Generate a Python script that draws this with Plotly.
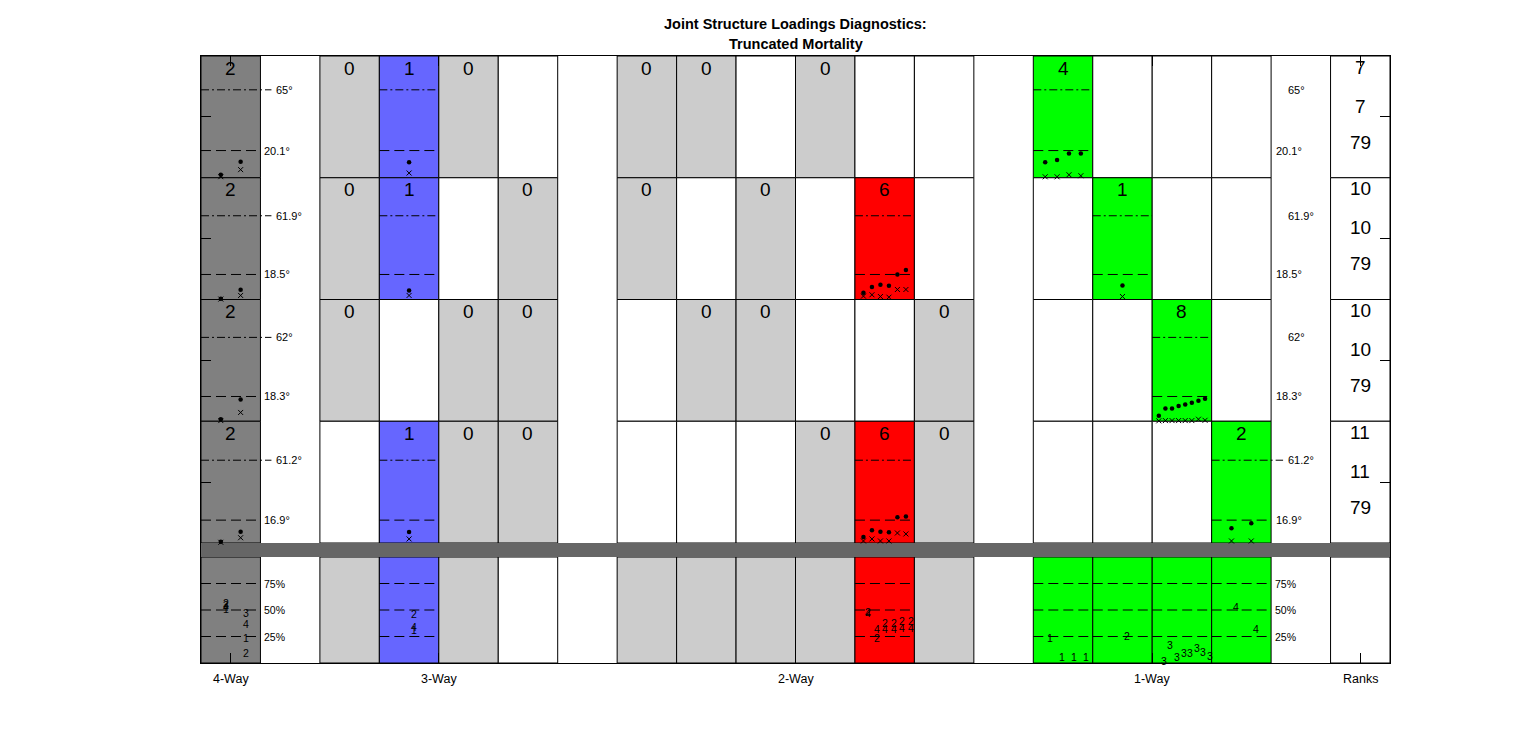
import plotly.graph_objects as go

# ---------------- data ----------------
row_names = ["Swiss Male", "Spanish Male", "Swiss Female", "Spanish Female"]
way_labels = ["4-Way", "3-Way", "2-Way", "1-Way", "Ranks"]

# component counts per cell: number = coloured cell, 0 = grey "0" cell, None = empty
four_way = [2, 2, 2, 2]
three_way = [[0, 1, 0, None], [0, 1, None, 0], [0, None, 0, 0], [None, 1, 0, 0]]
two_way = [[0, 0, None, 0, None, None], [0, None, 0, None, 6, None],
           [None, 0, 0, None, None, 0], [None, None, None, 0, 6, 0]]
one_way = [[4, None, None, None], [None, 1, None, None],
           [None, None, 8, None], [None, None, None, 2]]

upper_angle = [65, 61.9, 62, 61.2]
lower_angle = [20.1, 18.5, 18.3, 16.9]
upper_label = ["65°", "61.9°", "62°", "61.2°"]
lower_label = ["20.1°", "18.5°", "18.3°", "16.9°"]

# angles of the dots and crosses, per row, keyed by grid column
dots_swiss_male = {0: [2.2, 11.9], 3: [11.4], 14: [11.4, 13.2, 17.9, 17.9]}
dots_spanish_male = {0: [0.5, 7.2], 3: [6.7], 11: [5.0, 9.2, 10.9, 10.2, 18.4, 21.8], 15: [10.4]}
dots_swiss_female = {0: [1.5, 16.1], 16: [4.0, 9.5, 9.5, 11.2, 12.4, 13.6, 15.1, 16.6]}
dots_spanish_female = {0: [1.0, 8.4], 3: [8.2], 11: [4.5, 9.4, 8.4, 8.0, 19.1, 19.6], 17: [10.9, 14.6]}

cross_swiss_male = {0: [0.8, 6.0], 3: [3.5], 14: [0.7, 0.7, 2.2, 1.5]}
cross_spanish_male = {0: [0.3, 3.0], 3: [3.0], 11: [2.5, 3.5, 2.2, 1.7, 7.4, 7.4], 15: [2.2]}
cross_swiss_female = {0: [0.5, 6.5], 16: [0.3, 0.5, 0.5, 0.5, 0.5, 0.5, 1.5, 0.7]}
cross_spanish_female = {0: [0.5, 3.9], 3: [3.0], 11: [1.5, 3.0, 1.5, 1.5, 7.4, 6.7], 17: [1.5, 1.5]}

rank_first = [7, 10, 10, 11]
rank_second = [7, 10, 10, 11]
rank_third = [79, 79, 79, 79]

# effective contribution row: fill state per grid column and trait percentages per component
bottom_state = {0: "c", 2: "g", 3: "c", 4: "g", 5: "w", 7: "g", 8: "g", 9: "g", 10: "g",
                11: "c", 12: "g", 14: "c", 15: "c", 16: "c", 17: "c"}
contrib_4way = [{1: 51, 2: 57, 3: 55, 4: 53}, {1: 24, 2: 9.5, 3: 47, 4: 37}]
contrib_3way = [{1: 31, 2: 46, 4: 34}]
contrib_2way = [{2: 48, 4: 47}, {2: 23.6, 4: 32}, {2: 38, 4: 32}, {2: 38, 4: 32}, {2: 40, 4: 33}, {2: 40, 4: 33}]
contrib_1way_a = [{1: 23.6}, {1: 5.7}, {1: 5.7}, {1: 5.7}]
contrib_1way_b = [{2: 25.5}]
contrib_1way_c = [{3: 1.5}, {3: 17}, {3: 6}, {3: 9.5}, {3: 9.5}, {3: 14}, {3: 10}, {3: 7}]
contrib_1way_d = [{4: 53}, {4: 32}]

# ---------------- layout helpers ----------------
COLORS = {4: "#808080", 3: "#6666FF", 2: "#FF0000", 1: "#00FF00"}
GREY = "#CCCCCC"
ROW_H = 121.75
BOT_H = 106.0
BAND_H = 14.0
TOTAL_H = BOT_H + BAND_H + 4 * ROW_H
PX = 1 / 59.45  # one pixel in column units
FONT = "Liberation Sans, Arial, sans-serif"

groups = {4: [0], 3: [2, 3, 4, 5], 2: [7, 8, 9, 10, 11, 12], 1: [14, 15, 16, 17]}
group_values = {4: [[v] for v in four_way], 3: three_way, 2: two_way, 1: one_way}
dots_rows = [dots_swiss_male, dots_spanish_male, dots_swiss_female, dots_spanish_female]
cross_rows = [cross_swiss_male, cross_spanish_male, cross_swiss_female, cross_spanish_female]
contribs = {0: contrib_4way, 3: contrib_3way, 11: contrib_2way,
            14: contrib_1way_a, 15: contrib_1way_b, 16: contrib_1way_c, 17: contrib_1way_d}
col_way = {c: w for w, cols in groups.items() for c in cols}


def row_base(r):
    return BOT_H + BAND_H + (3 - r) * ROW_H


def ang_y(r, a):
    return row_base(r) + a / 90 * ROW_H


def pct_y(p):
    return p / 100 * BOT_H


shapes = []
annotations = []


def rect(x0, x1, y0, y1, fill, lw=1):
    shapes.append(dict(type="rect", xref="x", yref="y", x0=x0, x1=x1, y0=y0, y1=y1,
                       fillcolor=fill, line=dict(color="black", width=lw), layer="below"))


def hline(x0, x1, y, dash):
    shapes.append(dict(type="line", xref="x", yref="y", x0=x0, x1=x1, y0=y, y1=y,
                       line=dict(color="black", width=1, dash=dash), layer="below"))


def text(x, y, s, size, anchor="center", color="black"):
    annotations.append(dict(x=x, y=y, xref="x", yref="y", text=s, showarrow=False,
                            xanchor=anchor, yanchor="middle",
                            font=dict(family=FONT, size=size, color=color)))


DASHDOT = "8px,3px,2px,3px"
DASH = "10px,5px"

dot_x, dot_y, cr_x, cr_y = [], [], [], []

for r in range(4):
    top = row_base(r) + ROW_H
    for w, cols in groups.items():
        vals = group_values[w][r]
        for c, v in zip(cols, vals):
            if v is None:
                fill = "white"
            elif v == 0:
                fill = GREY
            else:
                fill = COLORS[w]
            rect(c, c + 1, row_base(r), top, fill)
            if v is not None:
                text(c + 0.5, top - 12, str(v), 19)
            if v:
                x1u = c + 1
                if c == 0:
                    x1u = 1 + 11 * PX
                if c == 17:
                    x1u = 18 + 12 * PX
                hline(c, x1u, ang_y(r, upper_angle[r]), DASHDOT)
                hline(c, c + 1, ang_y(r, lower_angle[r]), DASH)
                ds = dots_rows[r].get(c, [])
                xs = cross_rows[r].get(c, [])
                for i, a in enumerate(ds):
                    dot_x.append(c + (i + 1) / (len(ds) + 1))
                    dot_y.append(ang_y(r, a))
                for i, a in enumerate(xs):
                    cr_x.append(c + (i + 1) / (len(xs) + 1))
                    cr_y.append(ang_y(r, a))
    # ranks column
    rect(19, 20, row_base(r), top, "white")
    text(19.5, top - 11, str(rank_first[r]), 19)
    text(19.5, top - 50, str(rank_second[r]), 19)
    text(19.5, top - 86, str(rank_third[r]), 19)
    # angle labels
    text(1 + 14 * PX, ang_y(r, upper_angle[r]), upper_label[r], 11, "left")
    text(1 + 2 * PX, ang_y(r, lower_angle[r]), lower_label[r], 11, "left")
    text(18 + 15 * PX, ang_y(r, upper_angle[r]), upper_label[r], 11, "left")
    text(18 + 3 * PX, ang_y(r, lower_angle[r]), lower_label[r], 11, "left")
    # row name
    text(-9 * PX, row_base(r) + ROW_H / 2, row_names[r], 26.5, "right")

# effective contribution row
for c, st in bottom_state.items():
    fill = {"g": GREY, "w": "white", "c": COLORS[col_way[c]]}[st]
    rect(c, c + 1, 0, BOT_H, fill)
    if st == "c":
        for p in (25, 50, 75):
            hline(c, c + 1, pct_y(p), DASH)
rect(19, 20, 0, BOT_H, "white")
for p in (25, 50, 75):
    text(1 + 2 * PX, pct_y(p), f"{p}%", 10.5, "left")
    text(18 + 2 * PX, pct_y(p), f"{p}%", 10.5, "left")
for c, comps in contribs.items():
    n = len(comps)
    for i, comp in enumerate(comps):
        for trait, p in comp.items():
            text(c + (i + 1) / (n + 1), pct_y(p), str(trait), 10.5, "left")

annotations.append(dict(x=-4 * PX, y=pct_y(50), xref="x", yref="y", showarrow=False,
                        text="Effective<br>Contribution<br>of Traits", align="right",
                        xanchor="right", yanchor="middle",
                        font=dict(family=FONT, size=13, color="black")))

# separating band
shapes.append(dict(type="rect", xref="x", yref="y", x0=0, x1=20, y0=BOT_H, y1=BOT_H + BAND_H,
                   fillcolor="#666666", line=dict(width=0), layer="below"))

# x labels
for lab, xv in zip(way_labels, [0.5, 4, 10, 16, 19.5]):
    annotations.append(dict(x=xv, y=0.0907, xref="x", yref="paper", text=lab, showarrow=False,
                            xanchor="center", yanchor="middle",
                            font=dict(family=FONT, size=12.5, color="black")))

# title
for t, yp in (("<b>Joint Structure Loadings Diagnostics:</b>", 1 - 24 / 747),
              ("<b>Truncated Mortality</b>", 1 - 44 / 747)):
    annotations.append(dict(x=10, y=yp, xref="x", yref="paper", text=t, showarrow=False,
                            xanchor="center", yanchor="middle",
                            font=dict(family=FONT, size=14.5, color="black")))

fig = go.Figure()
fig.add_trace(go.Scatter(x=dot_x, y=dot_y, mode="markers",
                         marker=dict(symbol="circle", size=4.5, color="black"),
                         hoverinfo="skip", showlegend=False))
fig.add_trace(go.Scatter(x=cr_x, y=cr_y, mode="markers",
                         marker=dict(symbol="x-thin", size=5, color="black",
                                     line=dict(width=1, color="black")),
                         hoverinfo="skip", showlegend=False))

fig.update_layout(
    width=1536, height=747, autosize=False,
    margin=dict(l=0, r=0, t=0, b=0),
    paper_bgcolor="white", plot_bgcolor="white",
    shapes=shapes, annotations=annotations, showlegend=False,
    xaxis=dict(range=[0, 20], domain=[201 / 1536, 1390 / 1536], showgrid=False, zeroline=False,
               showline=True, linecolor="black", linewidth=1, mirror="ticks",
               ticks="inside", ticklen=10, tickcolor="black", tickwidth=1,
               tickvals=[0.5, 4, 10, 16, 19.5], showticklabels=False, fixedrange=True),
    yaxis=dict(range=[0, TOTAL_H], domain=[1 - 663 / 747, 1 - 56 / 747], showgrid=False,
               zeroline=False, showline=True, linecolor="black", linewidth=1, mirror="ticks",
               ticks="inside", ticklen=10, tickcolor="black", tickwidth=1,
               tickvals=[row_base(r) + ROW_H / 2 for r in range(4)], showticklabels=False,
               fixedrange=True),
)

fig.write_html("out.html", config={"displayModeBar": False},
               post_script="document.body.style.margin='0';document.body.style.overflow='hidden';")
